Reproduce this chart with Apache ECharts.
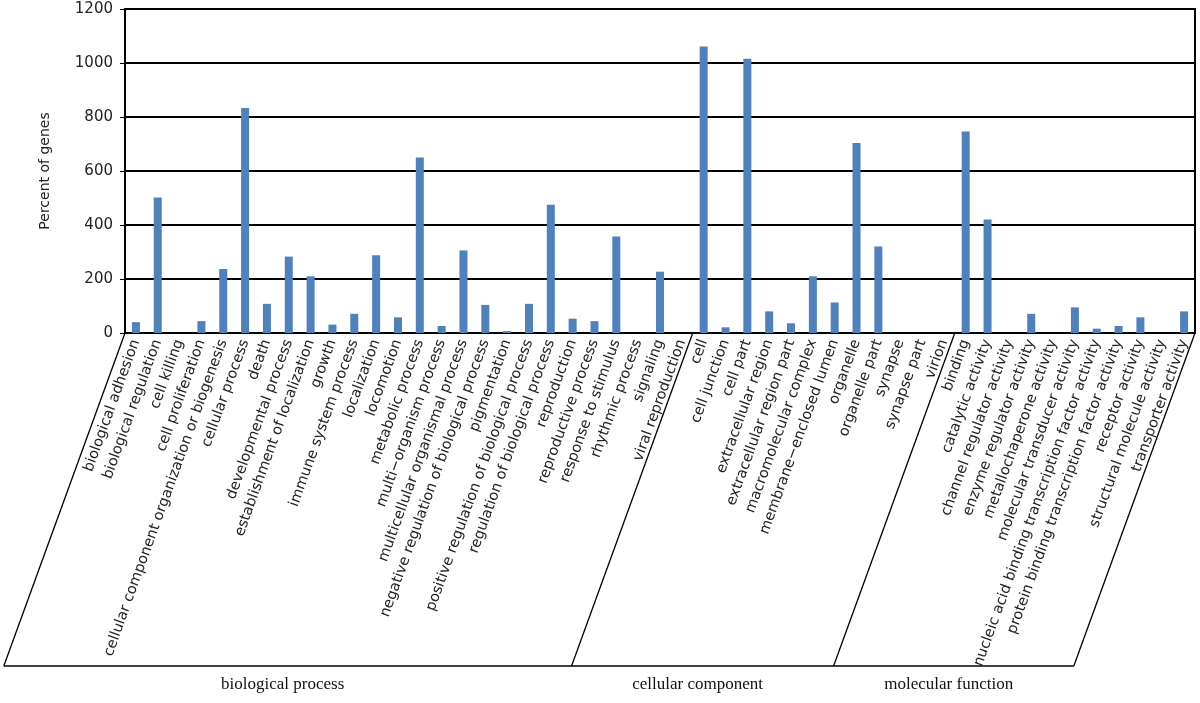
<!DOCTYPE html>
<html>
<head>
<meta charset="utf-8">
<script src="https://cdn.jsdelivr.net/npm/echarts@6/dist/echarts.min.js"></script>
<style>
  html, body { margin: 0; padding: 0; background: #fff; }
  #chart { width: 1200px; height: 703px; }
</style>
</head>
<body>
<div id="chart"></div>
<script>
// GO terms, in axis order
const categories = [
  "biological adhesion", "biological regulation", "cell killing", "cell proliferation",
  "cellular component organization or biogenesis", "cellular process", "death",
  "developmental process", "establishment of localization", "growth",
  "immune system process", "localization", "locomotion", "metabolic process",
  "multi\u2212organism process", "multicellular organismal process",
  "negative regulation of biological process", "pigmentation",
  "positive regulation of biological process", "regulation of biological process",
  "reproduction", "reproductive process", "response to stimulus", "rhythmic process",
  "signaling", "viral reproduction",
  "cell", "cell junction", "cell part", "extracellular region", "extracellular region part",
  "macromolecular complex", "membrane\u2212enclosed lumen", "organelle", "organelle part",
  "synapse", "synapse part", "virion",
  "binding", "catalytic activity", "channel regulator activity", "enzyme regulator activity",
  "metallochaperone activity", "molecular transducer activity",
  "nucleic acid binding transcription factor activity",
  "protein binding transcription factor activity", "receptor activity",
  "structural molecule activity", "transporter activity"
];

const geneValues = [
  40, 502, 0, 44, 237, 833, 108, 283, 210, 31, 71, 288, 58, 650, 26, 306, 104, 7, 108, 475,
  53, 44, 357, 0, 227, 0,
  1061, 21, 1016, 80, 36, 210, 113, 704, 320, 0, 0, 0,
  746, 420, 0, 71, 0, 95, 16, 26, 58, 0, 80
];

const yTicks = [0, 200, 400, 600, 800, 1000, 1200];

const groupNames = ["biological process", "cellular component", "molecular function"];
const groupSizes = [26, 12, 11];

const labelAngle = 70;

const chart = echarts.init(document.getElementById("chart"));

const options = {
  animation: false,
  grid: {
    left: 125,
    right: 5,
    top: 9,
    bottom: 370,
    show: true,
    borderColor: "#000",
    borderWidth: 2,
  },
  xAxis: {
    type: "category",
    data: categories,
    axisLine: { lineStyle: { color: "#000", width: 2 } },
    axisTick: { show: false },
    axisLabel: {
      interval: 0,
      rotate: labelAngle,
      margin: 7,
      color: "#222",
      fontFamily: "DejaVu Sans",
      fontSize: 14.5,
    },
  },
  yAxis: {
    type: "value",
    min: yTicks[0],
    max: yTicks[yTicks.length - 1],
    interval: yTicks[1] - yTicks[0],
    name: "Percent of genes",
    nameLocation: "middle",
    nameGap: 73,
    nameTextStyle: { color: "#222", fontFamily: "DejaVu Sans", fontSize: 14 },
    axisLine: { show: true, lineStyle: { color: "#000", width: 2 } },
    axisTick: { show: true, length: 5, lineStyle: { color: "#000" } },
    axisLabel: {
      color: "#222",
      fontFamily: "DejaVu Sans",
      fontSize: 15,
      margin: 12,
      formatter: (v) => String(v),
    },
    splitLine: { lineStyle: { color: "#000", width: 2 } },
  },
  series: [
    {
      type: "bar",
      data: geneValues,
      barWidth: 8,
      itemStyle: { color: "#4F81BD" },
    },
  ],
};

chart.setOption(options);

// group brackets: slanted separators at group boundaries + bottom line
function drawGroups() {
  const rect = chart.getModel().getComponent("grid").coordinateSystem.getRect();
  const band = rect.width / categories.length;
  const y0 = chart.convertToPixel({ yAxisIndex: 0 }, 0);
  const yBottom = 666;
  const shift = (yBottom - y0) / Math.tan((labelAngle * Math.PI) / 180);

  const bounds = [0];
  groupSizes.forEach((n, i) => bounds.push(bounds[i] + n));
  const xs = bounds.map((b) => rect.x + b * band);

  const lineStyle = { stroke: "#000", lineWidth: 1.3 };
  const elements = [];
  xs.forEach((x) => {
    elements.push({
      type: "line",
      shape: { x1: x, y1: y0, x2: x - shift, y2: yBottom },
      style: lineStyle,
      silent: true,
    });
  });
  elements.push({
    type: "line",
    shape: { x1: xs[0] - shift, y1: yBottom, x2: xs[xs.length - 1] - shift, y2: yBottom },
    style: lineStyle,
    silent: true,
  });
  groupNames.forEach((name, i) => {
    elements.push({
      type: "text",
      x: (xs[i] + xs[i + 1]) / 2 - shift - 5,
      y: yBottom + 10,
      style: {
        text: name,
        fill: "#111",
        font: "17px 'Liberation Serif'",
        textAlign: "center",
        textVerticalAlign: "top",
      },
      silent: true,
    });
  });
  chart.setOption({ graphic: { elements } });
}
drawGroups();
</script>
</body>
</html>
